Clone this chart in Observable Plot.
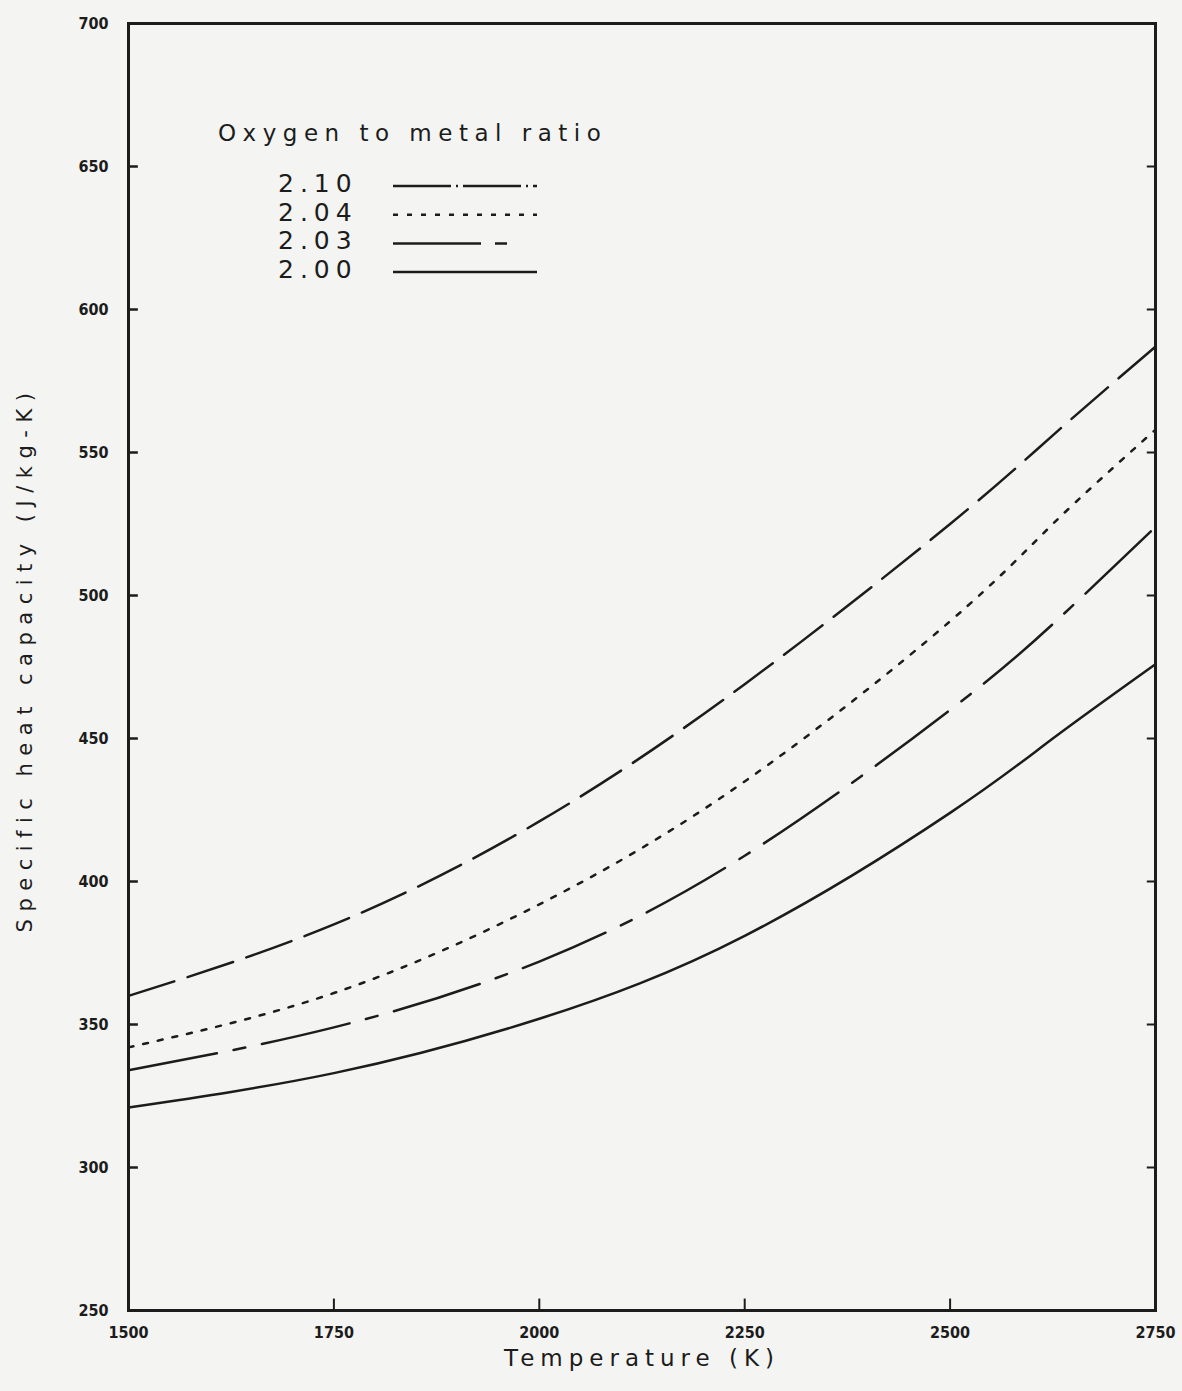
<!DOCTYPE html>
<html>
<head>
<meta charset="utf-8">
<script src="https://cdn.jsdelivr.net/npm/d3@7"></script>
<script src="https://cdn.jsdelivr.net/npm/@observablehq/plot@0.6"></script>
<style>
  html, body { margin: 0; padding: 0; background: #f4f4f2; }
  #wrap { position: relative; width: 1182px; height: 1391px; }
  #legend { position: absolute; left: 0; top: 0; }
  #wrap g[aria-label="y-axis tick label"] text,
  #wrap g[aria-label="x-axis tick label"] text {
    font-family: "DejaVu Sans Condensed", "DejaVu Sans", sans-serif !important;
    font-weight: bold !important;
  }
</style>
</head>
<body>
<div id="wrap"></div>
<script>
// ---- data ----
const temperatures = [1500, 1750, 2000, 2250, 2500, 2625, 2750];
const cp_2_10 = [360, 385, 421, 469, 525, 556, 587];
const cp_2_04 = [342, 361, 392, 435, 491, 525, 558];
const cp_2_03 = [334, 349, 372, 409, 460, 490, 524];
const cp_2_00 = [321, 333, 352, 381, 424, 450, 476];
const ratios = ["2.10", "2.04", "2.03", "2.00"];
const xTicks = [1500, 1750, 2000, 2250, 2500, 2750];
const xTickLabels = ["1500", "1750", "2000", "2250", "2500", "2750"];
const yTicks = [250, 300, 350, 400, 450, 500, 550, 600, 650, 700];
const yLabel = "Specific heat capacity (J/kg-K)";
const xLabel = "Temperature (K)";
const legendTitle = "Oxygen to metal ratio";

const seriesValues = {"2.10": cp_2_10, "2.04": cp_2_04, "2.03": cp_2_03, "2.00": cp_2_00};
const dashes = {"2.10": "48,14", "2.04": "5,10", "2.03": "90,17,12,17", "2.00": null};
const legendDashes = {"2.10": "58,5,2,5", "2.04": "5,9", "2.03": "88,14,12,40", "2.00": null};

const rows = ratios.flatMap(r => temperatures.map((t, i) => ({ratio: r, T: t, cp: seriesValues[r][i]})));

const ink = "#1c1c1c";
const font = "'DejaVu Sans', sans-serif";

const lineMarks = ratios.map(r => Plot.line(rows.filter(d => d.ratio === r), {
  x: "T", y: "cp", curve: "natural", stroke: ink, strokeWidth: 2.5,
  strokeDasharray: dashes[r] || undefined
}));

const chart = Plot.plot({
  width: 1182, height: 1391,
  marginLeft: 128, marginRight: 27, marginTop: 23, marginBottom: 81,
  style: {background: "transparent", fontFamily: font, color: ink},
  x: {domain: [1500, 2750]},
  y: {domain: [250, 700]},
  marks: [
    Plot.axisY(yTicks, {tickSize: 0, tickPadding: 20, fontSize: 16, label: null}),
    Plot.axisX(xTicks, {tickSize: 0, tickPadding: 16, fontSize: 16, label: null, tickFormat: (d, i) => xTickLabels[i]}),
    // inward tick marks
    Plot.ruleY(yTicks.slice(1, -1), {x1: 1500, x2: 1512, stroke: ink, strokeWidth: 2.5}),
    Plot.ruleY(yTicks.slice(1, -1), {x1: 2740, x2: 2750, stroke: ink, strokeWidth: 2}),
    Plot.ruleX(xTicks.slice(1, -1), {y1: 250, y2: 254, stroke: ink, strokeWidth: 2}),
    ...lineMarks,
    Plot.frame({stroke: ink, strokeWidth: 3}),
    Plot.text([yLabel], {text: d => d, frameAnchor: "left", dx: -103, dy: -8, rotate: -90,
      textAnchor: "middle", fontSize: 21, fill: ink}),
    Plot.text([xLabel], {text: d => d, frameAnchor: "bottom", dy: 55,
      textAnchor: "middle", fontSize: 23, fill: ink})
  ]
});

d3.select(chart).selectAll("text").filter(function() { return this.textContent === xLabel || this.textContent === yLabel; })
  .style("letter-spacing", function() { return this.textContent === xLabel ? "6px" : "7.5px"; });

document.getElementById("wrap").appendChild(chart);

// ---- legend overlay ----
const lg = d3.select("#wrap").append("svg").attr("id", "legend")
  .attr("width", 1182).attr("height", 320);
lg.append("text").attr("x", 218).attr("y", 141)
  .attr("font-family", font).attr("font-size", 23).attr("fill", ink)
  .style("letter-spacing", "6.5px").text(legendTitle);
const g = lg.selectAll("g.item").data(ratios).join("g").attr("class", "item")
  .attr("transform", (d, i) => `translate(0, ${186 + i * 28.7})`);
g.append("text").attr("x", 278).attr("y", 6)
  .attr("font-family", font).attr("font-size", 25).attr("fill", ink)
  .style("letter-spacing", "6px").text(d => d);
g.append("line").attr("x1", 393).attr("x2", 537).attr("y1", 0).attr("y2", 0)
  .attr("stroke", ink).attr("stroke-width", 2.5)
  .attr("stroke-dasharray", d => legendDashes[d]);
</script>
</body>
</html>
